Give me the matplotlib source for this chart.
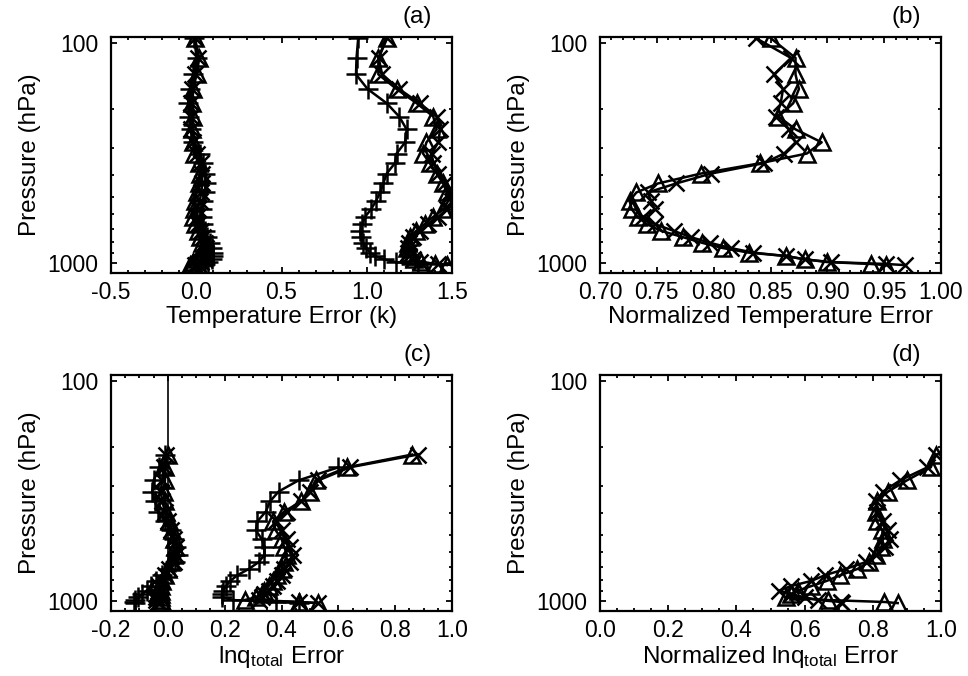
import numpy as np
import matplotlib
matplotlib.use("Agg")
import matplotlib.pyplot as plt
from matplotlib.ticker import MultipleLocator, NullFormatter, FixedLocator, FixedFormatter, FormatStrFormatter

plt.rcParams['font.family'] = ['Liberation Sans', 'DejaVu Sans']
plt.rcParams['mathtext.fontset'] = 'custom'
plt.rcParams['mathtext.rm'] = 'Liberation Sans'

nan = np.nan

# pressure levels (hPa)
pressure = [95, 117, 139, 162, 188, 216, 247, 283, 318, 352, 392, 435, 478, 522,
            570, 617, 665, 715, 763, 810, 855, 897, 930, 962, 990, 1010, 1022]

# ---- panel (a): temperature error (K)
a_bias_tri = [-0.008, 0.018, 0.002, -0.018, -0.022, -0.018, -0.022, -0.018, -0.012, 0.018, 0.022, 0.016,
              0.002, -0.008, -0.012, -0.018, -0.008, 0.008, 0.022, 0.031, 0.041, 0.031, 0.018, 0.002,
              -0.018, -0.027, -0.037]
a_bias_plus = [-0.012, 0.002, -0.018, -0.037, -0.047, -0.041, -0.033, -0.018, 0.022, 0.041, 0.051, 0.057,
               0.051, 0.041, 0.031, 0.031, 0.037, 0.051, 0.065, 0.080, 0.094, 0.100, 0.100, 0.090,
               0.070, 0.051, 0.022]
a_bias_x = [-0.01, 0.01, -0.005, -0.025, -0.03, -0.03, -0.028, -0.018, 0.005, 0.03, 0.035, 0.035,
            0.03, 0.02, 0.01, 0.005, 0.012, 0.025, 0.04, 0.05, 0.06, 0.06, 0.055, 0.045, 0.03, 0.01, -0.01]
a_rmse_plus = [0.95, 0.94, 0.937, 1.005, 1.117, 1.19, 1.234, 1.225, 1.175, 1.165, 1.117, 1.097, 1.078,
               1.055, 1.025, 0.99, 0.975, 0.962, 0.965, 0.98, 0.995, 1.02, 1.05, 1.10, 1.17, 1.30, 1.55]
a_rmse_tri = [1.117, 1.068, 1.068, 1.175, 1.293, 1.39, 1.41, 1.35, 1.33, 1.37, 1.41, 1.449, 1.47, 1.478,
              1.45, 1.39, 1.34, 1.29, 1.254, 1.24, 1.234, 1.245, 1.26, 1.28, 1.32, 1.40, 1.47]
a_rmse_x = [1.12, 1.07, 1.09, 1.19, 1.31, 1.41, 1.43, 1.42, 1.38, 1.39, 1.42, 1.46, 1.49, 1.50, 1.47,
            1.42, 1.36, 1.31, 1.27, 1.25, 1.24, 1.24, 1.25, 1.27, 1.31, 1.42, 1.55]

# ---- panel (b): normalized temperature error
b_tri = [0.850, 0.872, 0.872, 0.875, 0.870, 0.857, 0.872, 0.895, 0.882, 0.841, 0.789, 0.751, 0.732,
         0.726, 0.728, 0.733, 0.741, 0.754, 0.773, 0.790, 0.808, 0.831, 0.864, 0.880, 0.900, 0.938, 0.952]
b_x = [0.837, 0.868, 0.853, 0.861, 0.859, 0.855, 0.866, 0.872, 0.862, 0.844, 0.798, 0.767, 0.742,
       0.745, 0.748, 0.738, 0.748, 0.765, 0.780, 0.797, 0.815, 0.835, 0.864, 0.880, 0.903, 0.952, 0.968]

# ---- panel (c): lnq_total error
c_bias_tri = [nan, nan, nan, nan, nan, 0.0, -0.01, -0.01, -0.015, -0.01, -0.005, 0.005, 0.015, 0.02,
              0.025, 0.02, 0.01, 0.0, -0.01, -0.02, -0.025, -0.025, -0.025, -0.025, -0.025, -0.02, -0.02]
c_bias_plus = [nan, nan, nan, nan, nan, -0.01, -0.03, -0.05, -0.055, -0.045, -0.035, -0.01, 0.01, 0.02,
               0.03, 0.035, 0.025, 0.0, -0.02, -0.04, -0.06, -0.075, -0.09, -0.105, -0.115, -0.12, -0.115]
c_bias_x = [nan, nan, nan, nan, nan, -0.005, -0.015, -0.02, -0.025, -0.02, -0.01, 0.0, 0.01, 0.02,
            0.03, 0.03, 0.02, 0.005, -0.01, -0.02, -0.03, -0.035, -0.04, -0.04, -0.04, -0.035, -0.03]
c_rmse_plus = [nan, nan, nan, nan, nan, nan, 0.60, 0.46, 0.39, 0.36, 0.345, 0.315, 0.31, 0.33, 0.34,
               0.34, 0.32, 0.285, 0.245, 0.22, 0.205, 0.195, 0.19, 0.19, 0.23, 0.38, 0.46]
c_rmse_tri = [nan, nan, nan, nan, nan, 0.86, 0.63, 0.52, 0.50, 0.47, 0.41, 0.37, 0.38, 0.40, 0.41,
              0.42, 0.41, 0.40, 0.385, 0.37, 0.355, 0.34, 0.33, 0.31, 0.27, 0.46, 0.53]
c_rmse_x = [nan, nan, nan, nan, nan, 0.88, 0.64, 0.53, 0.50, 0.47, 0.42, 0.38, 0.40, 0.42, 0.43,
            0.44, 0.43, 0.41, 0.40, 0.385, 0.37, 0.355, 0.34, 0.33, 0.32, 0.46, 0.53]

# ---- panel (d): normalized lnq_total error
d_tri = [nan, nan, nan, nan, nan, 0.985, 0.97, 0.90, 0.845, 0.812, 0.808, 0.812, 0.828, 0.83, 0.825,
         0.81, 0.79, 0.755, 0.705, 0.665, 0.62, 0.58, 0.56, 0.545, 0.67, 0.834, 0.873]
d_x = [nan, nan, nan, nan, nan, 0.985, 0.96, 0.88, 0.83, 0.81, 0.812, 0.83, 0.845, 0.85, 0.835,
       0.81, 0.78, 0.72, 0.66, 0.62, 0.56, 0.525, 0.56, 0.60, 0.64, 0.707, 0.71]

panel_letters = ['(a)', '(b)', '(c)', '(d)']
xlabels = ['Temperature Error (k)', 'Normalized Temperature Error',
           r'$\mathregular{lnq_{total}}$ Error', r'Normalized $\mathregular{lnq_{total}}$ Error']

W, H = 968, 676
fig = plt.figure(figsize=(W / 100, H / 100), dpi=100)

def make_ax(l, t, r, b):
    return fig.add_axes([l / W, 1 - b / H, (r - l) / W, (b - t) / H])

ax_a = make_ax(111, 37, 452, 273)
ax_b = make_ax(600, 37, 941, 273)
ax_c = make_ax(111, 375, 452, 611)
ax_d = make_ax(600, 375, 941, 611)

LW = 1.8
MS = 11
MEW = 1.8

def tri(ax, x):
    ax.plot(x, pressure, color='black', lw=LW, marker='^', ms=MS, mfc='none', mec='black', mew=MEW)

def plus(ax, x):
    ax.plot(x, pressure, color='black', lw=LW, marker='+', ms=MS + 3, mec='black', mew=MEW)

def cross(ax, x):
    ax.plot(x, pressure, color='black', lw=LW, marker='x', ms=MS, mec='black', mew=MEW)

# panel a
tri(ax_a, a_bias_tri); plus(ax_a, a_bias_plus); cross(ax_a, a_bias_x)
plus(ax_a, a_rmse_plus); tri(ax_a, a_rmse_tri); cross(ax_a, a_rmse_x)
# panel b
tri(ax_b, b_tri); cross(ax_b, b_x)
# panel c
ax_c.axvline(0.0, color='black', lw=1.2)
tri(ax_c, c_bias_tri); plus(ax_c, c_bias_plus); cross(ax_c, c_bias_x)
plus(ax_c, c_rmse_plus); tri(ax_c, c_rmse_tri); cross(ax_c, c_rmse_x)
# panel d
tri(ax_d, d_tri); cross(ax_d, d_x)

xsets = [
    (ax_a, (-0.5, 1.5), 0.5, 0.1, '%.1f'),
    (ax_b, (0.70, 1.00), 0.05, 0.01, '%.2f'),
    (ax_c, (-0.2, 1.0), 0.2, 0.05, '%.1f'),
    (ax_d, (0.0, 1.0), 0.2, 0.05, '%.1f'),
]
TFS = 16.5
LFS = 17.5
for i, (ax, xl, maj, mnr, fmt) in enumerate(xsets):
    ax.set_yscale('log')
    ax.set_ylim(1110, 94)
    ax.set_xlim(*xl)
    ax.xaxis.set_major_locator(MultipleLocator(maj))
    ax.xaxis.set_minor_locator(MultipleLocator(mnr))
    ax.xaxis.set_major_formatter(FormatStrFormatter(fmt))
    ax.yaxis.set_major_locator(FixedLocator([100, 1000]))
    ax.yaxis.set_major_formatter(FixedFormatter(['100', '1000']))
    ax.yaxis.set_minor_locator(FixedLocator([200, 300, 400, 500, 600, 700, 800, 900]))
    ax.yaxis.set_minor_formatter(NullFormatter())
    ax.tick_params(which='both', direction='in', top=True, right=True, labelsize=TFS, width=1.3)
    ax.tick_params(which='major', length=4.5)
    ax.tick_params(which='minor', length=2.5)
    ax.tick_params(axis='x', which='major', pad=6)
    ax.tick_params(axis='y', which='major', pad=9)
    for s in ax.spines.values():
        s.set_linewidth(1.6)
    ax.set_xlabel(xlabels[i], fontsize=LFS, labelpad=1)
    ax.set_ylabel('Pressure (hPa)', fontsize=LFS, labelpad=5)
    pos = ax.get_position()
    fig.text(pos.x1 - 20 / W, pos.y1 + 20 / H, panel_letters[i], fontsize=LFS, ha='right', va='center')

fig.savefig('out.png', dpi=100)
